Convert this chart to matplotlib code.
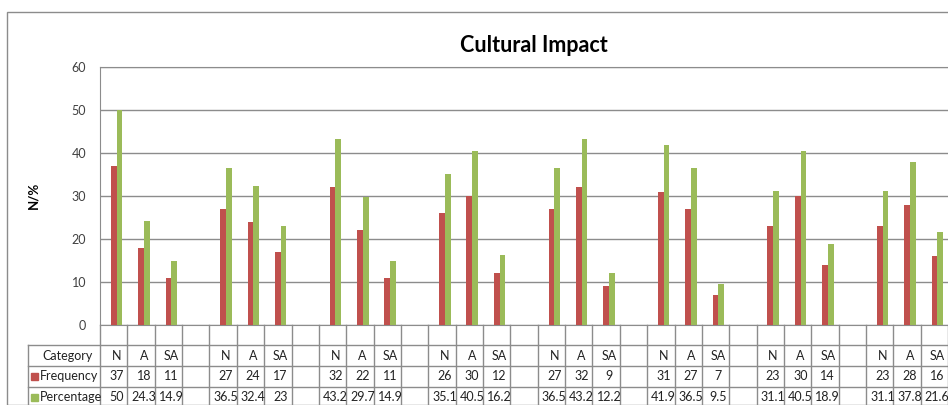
import matplotlib.pyplot as plt
import numpy as np
from matplotlib.transforms import blended_transform_factory
from matplotlib.patches import Rectangle

plt.rcParams['font.family'] = ['Lato', 'DejaVu Sans']

# data (N / A / SA for each of the 8 groups, blank column between groups)
groups = 8
cats = ['N', 'A', 'SA']
frequency = [37, 18, 11, 27, 24, 17, 32, 22, 11, 26, 30, 12,
             27, 32, 9, 31, 27, 7, 23, 30, 14, 23, 28, 16]
percentage = [50, 24.3, 14.9, 36.5, 32.4, 23, 43.2, 29.7, 14.9, 35.1, 40.5, 16.2,
              36.5, 43.2, 12.2, 41.9, 36.5, 9.5, 31.1, 40.5, 18.9, 31.1, 37.8, 21.6]
freq_labels = ['37', '18', '11', '27', '24', '17', '32', '22', '11', '26', '30', '12',
               '27', '32', '9', '31', '27', '7', '23', '30', '14', '23', '28', '16']
pct_labels = ['50', '24.3', '14.9', '36.5', '32.4', '23', '43.2', '29.7', '14.9',
              '35.1', '40.5', '16.2', '36.5', '43.2', '12.2', '41.9', '36.5', '9.5',
              '31.1', '40.5', '18.9', '31.1', '37.8', '21.6']

red = '#C0504D'
green = '#9BBB59'
grid_c = '#8C8C8C'

W, H = 948, 405
fig = plt.figure(figsize=(W / 100, H / 100), dpi=100)
ncols = 32
colw = 27.36
x0, ytop, ybot = 100, 67, 325
ax = fig.add_axes([x0 / W, (H - ybot) / H, ncols * colw / W, (ybot - ytop) / H])

# positions: group g, cat i -> column 4*g + i
xpos = np.array([4 * g + i for g in range(groups) for i in range(3)])
bw = 0.21
ax.bar(xpos, frequency, width=bw, color=red, zorder=3)
ax.bar(xpos + bw, percentage, width=bw, color=green, zorder=3)

ax.set_xlim(-0.5, ncols - 0.5)
ax.set_ylim(0, 60)
ax.set_yticks(range(0, 61, 10))
ax.yaxis.grid(True, color=grid_c, lw=1, zorder=0)
ax.set_xticks([])
ax.tick_params(axis='y', length=0, pad=10, labelsize=9, labelcolor='#404040')
for s in ['left', 'bottom', 'top']:
    ax.spines[s].set_color(grid_c)
ax.spines['right'].set_visible(False)

fig.text(33 / W, 1 - 195 / H, 'N/%', rotation=90, ha='center', va='center',
         fontsize=9.5, fontweight='bold')
fig.text(534 / W, 1 - 45 / H, 'Cultural Impact', ha='center', va='center',
         fontsize=15.5, fontweight='bold')

# data table below the plot
tr = blended_transform_factory(ax.transData, fig.transFigure)
def fy(p):
    return 1 - p / H

rows = [345, 366, 387, 408]
xleft = (28 - x0) / colw - 0.5
xright = ncols - 0.5
for k in range(ncols + 1):
    ax.plot([k - 0.5, k - 0.5], [fy(ybot), fy(408)], transform=tr, color=grid_c,
            lw=1, clip_on=False)
ax.plot([xleft, xleft], [fy(345), fy(408)], transform=tr, color=grid_c, lw=1, clip_on=False)
for r in rows[:3]:
    ax.plot([xleft, xright], [fy(r), fy(r)], transform=tr, color=grid_c, lw=1, clip_on=False)

fs = 9
ax.text((68 - x0) / colw - 0.5, fy(355.5), 'Category', transform=tr, ha='center',
        va='center', fontsize=fs, color='#222222')
ax.text((40 - x0) / colw - 0.5, fy(376), 'Frequency', transform=tr, ha='left',
        va='center', fontsize=fs, color='#222222')
ax.text((40 - x0) / colw - 0.5, fy(397), 'Percentage', transform=tr, ha='left',
        va='center', fontsize=fs, color='#222222')
fig.patches.append(Rectangle((31 / W, fy(380)), 7 / W, 7 / H, transform=fig.transFigure,
                             color=red))
fig.patches.append(Rectangle((31 / W, fy(401)), 7 / W, 7 / H, transform=fig.transFigure,
                             color=green))
for j, x in enumerate(xpos):
    ax.text(x + 0.1, fy(355.5), cats[j % 3], transform=tr, ha='center', va='center',
            fontsize=fs, color='#222222')
    ax.text(x + 0.1, fy(376), freq_labels[j], transform=tr, ha='center', va='center',
            fontsize=fs, color='#222222')
    ax.text(x + 0.1, fy(397), pct_labels[j], transform=tr, ha='center', va='center',
            fontsize=fs, color='#222222')

# outer chart border
fig.patches.append(Rectangle((7 / W, 0), 2, fy(12), transform=fig.transFigure,
                             fill=False, edgecolor='#8C8C8C', lw=1))

fig.savefig('out.png', dpi=100)
